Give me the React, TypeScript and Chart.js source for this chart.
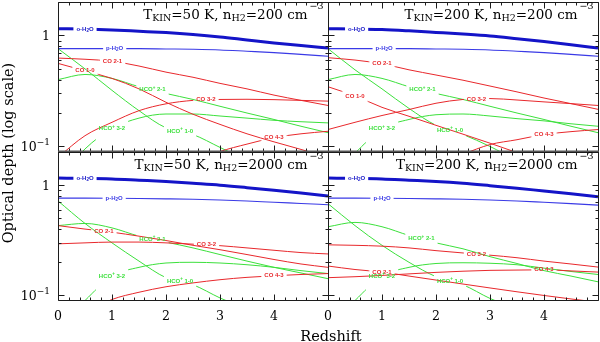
import React, { useEffect, useRef } from 'react';
import { Chart, registerables } from 'chart.js';

Chart.register(...registerables);

// ---------------- data ----------------
const Z = [0, 0.5, 1, 1.5, 2, 2.5, 3, 3.5, 4, 4.5, 5];
const X_TICK_VALUES = [0, 1, 2, 3, 4];
const X_MINOR_TICKS = [0.2, 0.4, 0.6, 0.8, 1.2, 1.4, 1.6, 1.8, 2.2, 2.4, 2.6, 2.8, 3.2, 3.4, 3.6, 3.8, 4.2, 4.4, 4.6, 4.8];
const X_MAJOR_TICKS = [0, 1, 2, 3, 4, 5];
const Y_TICK_VALUES = [0.1, 1];
const Y_TICK_LABELS = ['10^{−1}', '1'];
const Y_MINOR_TICKS = [0.2, 0.3, 0.4, 0.5, 0.6, 0.7, 0.8, 0.9, 2];
const X_TITLE = 'Redshift';
const Y_TITLE = 'Optical depth (log scale)';

const LINE_NAMES = ['o-H_2O', 'p-H_2O', 'CO 1-0', 'CO 2-1', 'CO 3-2', 'CO 4-3', 'HCO^+ 1-0', 'HCO^+ 2-1', 'HCO^+ 3-2'];

const PANEL_TKIN = ['50', '200', '50', '200'];
const PANEL_NH2 = ['200', '200', '2000', '2000'];

// Top-left: T=50 K, n=200
const TL_O_H2O = [1.15, 1.14, 1.12, 1.09, 1.06, 1.02, 0.97, 0.91, 0.855, 0.81, 0.77];
const TL_P_H2O = [0.76, 0.76, 0.76, 0.76, 0.755, 0.75, 0.74, 0.72, 0.7, 0.675, 0.65];
const TL_CO_10 = [0.56, 0.48, 0.41, 0.33, 0.25, 0.195, 0.158, 0.13, 0.11, 0.094, 0.08];
const TL_CO_21 = [0.625, 0.61, 0.585, 0.53, 0.467, 0.42, 0.37, 0.33, 0.29, 0.26, 0.234];
const TL_CO_32 = [0.08, 0.125, 0.165, 0.21, 0.242, 0.26, 0.265, 0.266, 0.264, 0.26, 0.256];
const TL_CO_43 = [0.03, 0.035, 0.04, 0.048, 0.058, 0.072, 0.09, 0.105, 0.12, 0.13, 0.137];
const TL_HCO_10 = [0.76, 0.5, 0.32, 0.21, 0.147, 0.128, 0.098, 0.075, 0.06, 0.05, 0.04];
const TL_HCO_21 = [0.4, 0.445, 0.41, 0.345, 0.3, 0.265, 0.23, 0.2, 0.175, 0.152, 0.133];
const TL_HCO_32 = [0.05, 0.095, 0.145, 0.18, 0.196, 0.196, 0.188, 0.18, 0.172, 0.167, 0.163];
const TL_LABEL_Z = [0.5, 1.05, 0.5, 1.01, 2.74, 4.0, 2.26, 1.75, 1.0];
const TL_LABEL_V = [1.14, 0.76, 0.48, 0.585, 0.265, 0.12, 0.138, 0.325, 0.145];

// Top-right: T=200 K, n=200
const TR_O_H2O = [1.15, 1.145, 1.13, 1.1, 1.065, 1.03, 0.99, 0.935, 0.88, 0.825, 0.77];
const TR_P_H2O = [0.76, 0.76, 0.76, 0.76, 0.755, 0.75, 0.74, 0.72, 0.7, 0.675, 0.65];
const TR_CO_10 = [0.345, 0.285, 0.225, 0.187, 0.155, 0.129, 0.107, 0.088, 0.073, 0.06, 0.05];
const TR_CO_21 = [0.63, 0.6, 0.555, 0.49, 0.44, 0.395, 0.35, 0.31, 0.273, 0.243, 0.216];
const TR_CO_32 = [0.142, 0.165, 0.19, 0.215, 0.245, 0.265, 0.27, 0.262, 0.252, 0.243, 0.234];
const TR_CO_43 = [0.03, 0.038, 0.046, 0.056, 0.068, 0.085, 0.104, 0.115, 0.128, 0.136, 0.142];
const TR_HCO_10 = [0.76, 0.49, 0.33, 0.22, 0.155, 0.128, 0.1, 0.075, 0.06, 0.05, 0.04];
const TR_HCO_21 = [0.4, 0.445, 0.41, 0.345, 0.3, 0.265, 0.23, 0.2, 0.175, 0.152, 0.133];
const TR_HCO_32 = [0.05, 0.087, 0.145, 0.175, 0.193, 0.196, 0.188, 0.178, 0.17, 0.16, 0.152];
const TR_LABEL_Z = [0.53, 1.04, 0.5, 1.0, 2.75, 4.0, 2.26, 1.75, 1.0];
const TR_LABEL_V = [1.145, 0.76, 0.285, 0.555, 0.268, 0.128, 0.14, 0.325, 0.145];

// Bottom-left: T=50 K, n=2000
const BL_O_H2O = [1.16, 1.155, 1.14, 1.11, 1.08, 1.04, 1.0, 0.95, 0.9, 0.85, 0.8];
const BL_P_H2O = [0.764, 0.764, 0.762, 0.758, 0.752, 0.745, 0.735, 0.72, 0.7, 0.683, 0.665];
const BL_CO_21 = [0.43, 0.4, 0.375, 0.345, 0.315, 0.285, 0.26, 0.235, 0.212, 0.193, 0.18];
const BL_CO_32 = [0.294, 0.3, 0.305, 0.305, 0.3, 0.292, 0.283, 0.27, 0.257, 0.245, 0.238];
const BL_CO_43 = [0.05, 0.07, 0.092, 0.107, 0.12, 0.13, 0.139, 0.146, 0.151, 0.155, 0.158];
const BL_HCO_10 = [0.72, 0.45, 0.3, 0.205, 0.145, 0.125, 0.095, 0.075, 0.06, 0.05, 0.04];
const BL_HCO_21 = [0.43, 0.45, 0.41, 0.345, 0.305, 0.27, 0.235, 0.205, 0.18, 0.16, 0.142];
const BL_HCO_32 = [0.05, 0.09, 0.15, 0.18, 0.197, 0.2, 0.197, 0.19, 0.18, 0.168, 0.158];
const BL_LABEL_Z = [0.5, 1.04, null, 0.85, 2.75, 4.0, 2.26, 1.75, 1.0];
const BL_LABEL_V = [1.155, 0.764, null, 0.382, 0.288, 0.151, 0.135, 0.325, 0.15];

// Bottom-right: T=200 K, n=2000
const BR_O_H2O = [1.16, 1.155, 1.14, 1.11, 1.08, 1.04, 0.99, 0.94, 0.885, 0.835, 0.785];
const BR_P_H2O = [0.764, 0.764, 0.762, 0.758, 0.752, 0.745, 0.735, 0.72, 0.7, 0.68, 0.66];
const BR_CO_21 = [0.185, 0.172, 0.163, 0.15, 0.138, 0.127, 0.117, 0.108, 0.1, 0.093, 0.087];
const BR_CO_32 = [0.288, 0.285, 0.28, 0.27, 0.255, 0.243, 0.232, 0.22, 0.205, 0.193, 0.181];
const BR_CO_43 = [0.145, 0.148, 0.152, 0.157, 0.162, 0.166, 0.169, 0.17, 0.171, 0.167, 0.163];
const BR_HCO_10 = [0.68, 0.43, 0.285, 0.2, 0.148, 0.125, 0.094, 0.075, 0.06, 0.05, 0.04];
const BR_HCO_21 = [0.42, 0.46, 0.42, 0.35, 0.3, 0.265, 0.225, 0.195, 0.168, 0.15, 0.133];
const BR_HCO_32 = [0.05, 0.09, 0.15, 0.18, 0.195, 0.198, 0.196, 0.19, 0.177, 0.165, 0.155];
const BR_LABEL_Z = [0.53, 1.0, null, 1.0, 2.75, 4.0, 2.26, 1.73, 1.0];
const BR_LABEL_V = [1.155, 0.764, null, 0.163, 0.238, 0.171, 0.135, 0.33, 0.15];

const PANEL_LINES = [
  [TL_O_H2O, TL_P_H2O, TL_CO_10, TL_CO_21, TL_CO_32, TL_CO_43, TL_HCO_10, TL_HCO_21, TL_HCO_32],
  [TR_O_H2O, TR_P_H2O, TR_CO_10, TR_CO_21, TR_CO_32, TR_CO_43, TR_HCO_10, TR_HCO_21, TR_HCO_32],
  [BL_O_H2O, BL_P_H2O, null, BL_CO_21, BL_CO_32, BL_CO_43, BL_HCO_10, BL_HCO_21, BL_HCO_32],
  [BR_O_H2O, BR_P_H2O, null, BR_CO_21, BR_CO_32, BR_CO_43, BR_HCO_10, BR_HCO_21, BR_HCO_32],
];
const PANEL_LABEL_Z = [TL_LABEL_Z, TR_LABEL_Z, BL_LABEL_Z, BR_LABEL_Z];
const PANEL_LABEL_V = [TL_LABEL_V, TR_LABEL_V, BL_LABEL_V, BR_LABEL_V];

// ---------------- styles ----------------
const BLUE_DARK = '#1414c8';
const BLUE = '#3a3ae6';
const RED = '#e8282c';
const GREEN = '#3ce03c';
const LINE_COLORS = [BLUE_DARK, BLUE, RED, RED, RED, RED, GREEN, GREEN, GREEN];
const LINE_WIDTHS = [3, 1.1, 1, 1, 1, 1, 1, 1, 1];

const W = 600;
const H = 342;
const SERIF = "'DejaVu Serif', serif";
const LABEL_FAMILY = "'Liberation Sans', Arial, sans-serif";

type Run = { t: string; m: number };
function parseRich(s: string): Run[] {
  const runs: Run[] = [];
  let buf = '';
  let i = 0;
  while (i < s.length) {
    const c = s[i];
    if (c === '_' || c === '^') {
      if (buf) runs.push({ t: buf, m: 0 });
      buf = '';
      const m = c === '_' ? -1 : 1;
      let t = '';
      if (s[i + 1] === '{') {
        const j = s.indexOf('}', i + 2);
        t = s.slice(i + 2, j);
        i = j + 1;
      } else {
        t = s[i + 1];
        i += 2;
      }
      runs.push({ t, m });
    } else {
      buf += c;
      i++;
    }
  }
  if (buf) runs.push({ t: buf, m: 0 });
  return runs;
}

type RichStyle = { size: number; sub: number; subDy: number; supDy: number; weight: string; family: string };
function richWidth(ctx: CanvasRenderingContext2D, runs: Run[], st: RichStyle) {
  let w = 0;
  for (const r of runs) {
    ctx.font = `${st.weight} ${r.m ? st.sub : st.size}px ${st.family}`;
    w += ctx.measureText(r.t).width;
  }
  return w;
}
function drawRich(ctx: CanvasRenderingContext2D, runs: Run[], x: number, y: number, st: RichStyle) {
  let cx = x;
  for (const r of runs) {
    ctx.font = `${st.weight} ${r.m ? st.sub : st.size}px ${st.family}`;
    const dy = r.m === -1 ? st.subDy : r.m === 1 ? -st.supDy : 0;
    ctx.fillText(r.t, cx, y + dy);
    cx += ctx.measureText(r.t).width;
  }
  return cx;
}

const LABEL_STYLE: RichStyle = { size: 6, sub: 4.5, subDy: 1.5, supDy: 2, weight: 'bold', family: LABEL_FAMILY };
const TITLE_STYLE: RichStyle = { size: 13.5, sub: 9.5, subDy: 2.5, supDy: 0, weight: 'normal', family: SERIF };
const TICK_STYLE: RichStyle = { size: 12.5, sub: 9, subDy: 0, supDy: 6, weight: 'normal', family: SERIF };

function buildConfig(idx: number): any {
  const col = idx % 2;
  const row = Math.floor(idx / 2);
  const area = {
    left: col ? 328 : 58,
    right: col ? 598 : 328,
    top: row ? 152 : 2,
    bottom: row ? 300 : 151,
  };
  const lines = PANEL_LINES[idx];
  const lz = PANEL_LABEL_Z[idx];
  const lv = PANEL_LABEL_V[idx];
  const used: number[] = [];
  const datasets: any[] = [];
  lines.forEach((vals, k) => {
    if (!vals) return;
    used.push(k);
    datasets.push({
      label: LINE_NAMES[k],
      data: Z.map((z, i) => ({ x: z, y: vals[i] })),
      borderColor: LINE_COLORS[k],
      backgroundColor: LINE_COLORS[k],
      borderWidth: LINE_WIDTHS[k],
      pointRadius: 0,
      fill: false,
      cubicInterpolationMode: 'monotone',
    });
  });

  const labelInfo = (chart: any, di: number) => {
    const k = used[di];
    if (lz[k] == null) return null;
    const ctx = chart.ctx as CanvasRenderingContext2D;
    const runs = parseRich(LINE_NAMES[k]);
    const w = richWidth(ctx, runs, LABEL_STYLE);
    const px = chart.scales.x.getPixelForValue(lz[k]);
    const py = chart.scales.y.getPixelForValue(lv[k]);
    return { runs, w, px, py, color: LINE_COLORS[k] };
  };

  const plugin = {
    id: 'panelDecor' + idx,
    beforeDatasetDraw(chart: any, args: any) {
      const info = labelInfo(chart, args.index);
      if (!info) return;
      const ctx = chart.ctx as CanvasRenderingContext2D;
      const gap = 3;
      ctx.save();
      ctx.beginPath();
      ctx.rect(0, 0, W, H);
      ctx.rect(info.px - info.w / 2 - gap, 0, info.w + 2 * gap, H);
      ctx.clip('evenodd');
    },
    afterDatasetDraw(chart: any, args: any) {
      const k = used[args.index];
      if (lz[k] == null) return;
      chart.ctx.restore();
    },
    afterDatasetsDraw(chart: any) {
      const ctx = chart.ctx as CanvasRenderingContext2D;
      ctx.save();
      ctx.textBaseline = 'middle';
      ctx.textAlign = 'left';
      used.forEach((k, di) => {
        const info = labelInfo(chart, di);
        if (!info) return;
        ctx.fillStyle = info.color;
        drawRich(ctx, info.runs, info.px - info.w / 2, info.py, LABEL_STYLE);
      });
      ctx.restore();
    },
    afterDraw(chart: any) {
      const ctx = chart.ctx as CanvasRenderingContext2D;
      const a = chart.chartArea;
      const xs = chart.scales.x;
      const ys = chart.scales.y;
      const L = Math.round(a.left) + 0.5;
      const R = Math.round(a.right) + 0.5;
      const T = Math.round(a.top) + 0.5;
      const B = Math.round(a.bottom) + 0.5;
      ctx.save();
      ctx.strokeStyle = '#1c1c1c';
      ctx.lineWidth = 1;
      ctx.beginPath();
      ctx.rect(L, T, R - L, B - T);
      const xt = (v: number, len: number) => {
        const p = Math.round(xs.getPixelForValue(v)) + 0.5;
        ctx.moveTo(p, B);
        ctx.lineTo(p, B - len);
        ctx.moveTo(p, T);
        ctx.lineTo(p, T + len);
      };
      const yt = (v: number, len: number) => {
        const p = Math.round(ys.getPixelForValue(v)) + 0.5;
        ctx.moveTo(L, p);
        ctx.lineTo(L + len, p);
        ctx.moveTo(R, p);
        ctx.lineTo(R - len, p);
      };
      X_MAJOR_TICKS.forEach((v) => xt(v, 6));
      X_MINOR_TICKS.forEach((v) => xt(v, 3));
      Y_TICK_VALUES.forEach((v) => yt(v, 6));
      Y_MINOR_TICKS.forEach((v) => yt(v, 3));
      ctx.stroke();
      if (row === 0) {
        ctx.beginPath();
        ctx.strokeStyle = '#555555';
        ctx.lineWidth = 2.5;
        ctx.moveTo(a.left, a.bottom + 0.75);
        ctx.lineTo(a.right + 1, a.bottom + 0.75);
        ctx.stroke();
      }
      ctx.fillStyle = '#000';
      ctx.textBaseline = 'alphabetic';
      ctx.textAlign = 'left';
      // tick labels (positions from the chart's scales)
      if (row === 1) {
        ctx.font = `${TICK_STYLE.size}px ${SERIF}`;
        ctx.textAlign = 'center';
        X_TICK_VALUES.forEach((v) => {
          ctx.fillText(String(v), xs.getPixelForValue(v), a.bottom + 20);
        });
        ctx.textAlign = 'left';
      }
      if (col === 0) {
        Y_TICK_VALUES.forEach((v, i) => {
          const runs = parseRich(Y_TICK_LABELS[i]);
          const w = richWidth(ctx, runs, TICK_STYLE);
          drawRich(ctx, runs, a.left - 8 - w, ys.getPixelForValue(v) + 4.5, TICK_STYLE);
        });
      }
      // panel title
      const title = parseRich(`T_{KIN}=${PANEL_TKIN[idx]} K, n_{H2}=${PANEL_NH2[idx]} cm`);
      const tw = richWidth(ctx, title, TITLE_STYLE);
      const baseY = a.top + 16.5;
      const endX = a.right - 20.5;
      drawRich(ctx, title, endX - tw, baseY, TITLE_STYLE);
      ctx.font = `9.5px ${SERIF}`;
      ctx.fillText('−3', endX + 2, baseY - 9.5);
      // shared axis titles
      if (idx === 2) {
        ctx.font = `14.5px ${SERIF}`;
        ctx.textAlign = 'center';
        ctx.textBaseline = 'alphabetic';
        ctx.fillText(X_TITLE, 331, 340.5);
        ctx.save();
        ctx.translate(12.5, 153);
        ctx.rotate(-Math.PI / 2);
        ctx.fillText(Y_TITLE, 0, 0);
        ctx.restore();
      }
      ctx.restore();
    },
  };

  return {
    type: 'line',
    data: { datasets },
    options: {
      animation: false,
      responsive: false,
      devicePixelRatio: 1,
      events: [],
      layout: { autoPadding: false, padding: { left: area.left, right: W - area.right, top: area.top, bottom: H - area.bottom } },
      plugins: { legend: { display: false }, tooltip: { enabled: false }, title: { display: false } },
      scales: {
        x: {
          type: 'linear',
          position: 'bottom',
          min: 0,
          max: 5,
          grid: { display: false, drawTicks: false },
          border: { display: false },
          ticks: { display: false },
          afterFit: (s: any) => {
            s.height = 0;
          },
        },
        y: {
          type: 'logarithmic',
          position: 'left',
          min: 0.091,
          max: 2.0,
          grid: { display: false, drawTicks: false },
          border: { display: false },
          ticks: { display: false },
          afterFit: (s: any) => {
            s.width = 0;
          },
        },
      },
    },
    plugins: [plugin],
  };
}

function Panel({ idx }: { idx: number }) {
  const ref = useRef<HTMLCanvasElement>(null);
  useEffect(() => {
    const chart = new Chart(ref.current as HTMLCanvasElement, buildConfig(idx));
    return () => chart.destroy();
  }, [idx]);
  return (
    <canvas
      ref={ref}
      width={W}
      height={H}
      style={{ position: 'absolute', left: 0, top: 0, width: W, height: H }}
    />
  );
}

export default function App() {
  useEffect(() => {
    document.body.style.margin = '0';
  }, []);
  return (
    <div style={{ position: 'relative', width: W, height: H, background: '#fff', overflow: 'hidden' }}>
      {[0, 1, 2, 3].map((i) => (
        <Panel key={i} idx={i} />
      ))}
    </div>
  );
}
